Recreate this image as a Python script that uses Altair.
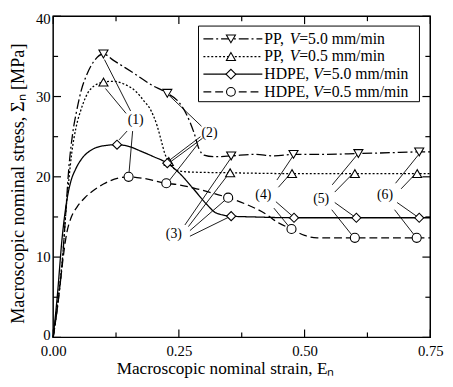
import altair as alt
import pandas as pd

# ---------------- data ----------------
series_names = ["PP, V=5.0 mm/min", "PP, V=0.5 mm/min", "HDPE, V=5.0 mm/min", "HDPE, V=0.5 mm/min"]

pp50_x = [0, 0.01, 0.018, 0.025, 0.031, 0.039, 0.047, 0.056, 0.066, 0.08, 0.1, 0.12, 0.143, 0.17, 0.194,
          0.227, 0.25, 0.265, 0.28, 0.29, 0.3, 0.32, 0.354, 0.4, 0.44, 0.478, 0.54, 0.607, 0.67, 0.728, 0.75]
pp50_y = [0, 4.5, 9.3, 15.5, 21.0, 25.5, 28.3, 30.8, 32.6, 34.3, 35.3, 34.5, 33.6, 32.5, 31.5,
          30.4, 29.3, 27.8, 25.5, 23.5, 22.7, 22.5, 22.6, 22.8, 22.6, 22.8, 22.8, 22.9, 23.0, 23.1, 23.1]

pp05_x = [0, 0.01, 0.02, 0.025, 0.031, 0.037, 0.045, 0.055, 0.074, 0.1, 0.12, 0.143, 0.165, 0.18, 0.195,
          0.207, 0.215, 0.222, 0.23, 0.246, 0.27, 0.352, 0.475, 0.6, 0.724, 0.75]
pp05_y = [0, 5.0, 11.0, 15.4, 19.5, 23.0, 26.0, 28.3, 30.9, 31.8, 31.9, 31.5, 30.6, 29.5, 28.2,
          26.3, 24.5, 22.9, 21.9, 20.8, 20.6, 20.5, 20.4, 20.4, 20.4, 20.4]

hd50_x = [0, 0.008, 0.018, 0.027, 0.035, 0.045, 0.06, 0.075, 0.094, 0.127, 0.15, 0.174, 0.2, 0.227,
          0.252, 0.279, 0.305, 0.324, 0.354, 0.4, 0.479, 0.603, 0.728, 0.75]
hd50_y = [0, 5.0, 12.5, 17.0, 19.4, 21.0, 22.5, 23.3, 23.8, 24.0, 23.8, 23.2, 22.5, 21.7,
          20.4, 18.5, 16.6, 15.5, 15.1, 15.0, 14.9, 14.9, 14.9, 14.9]

hd05_x = [0, 0.008, 0.015, 0.021, 0.027, 0.035, 0.047, 0.063, 0.08, 0.1, 0.113, 0.15, 0.18, 0.225, 0.25,
          0.28, 0.31, 0.348, 0.383, 0.422, 0.447, 0.474, 0.5, 0.525, 0.6, 0.723, 0.75]
hd05_y = [0, 3.5, 7.3, 10.5, 13.0, 14.8, 16.2, 17.4, 18.3, 19.1, 19.5, 20.0, 19.8, 19.2, 19.0,
          18.6, 18.1, 17.4, 16.6, 15.4, 14.3, 13.5, 12.7, 12.4, 12.4, 12.4, 12.4]

# markers
pp50_mx = [0.1, 0.227, 0.354, 0.478, 0.607, 0.728]
pp50_my = [35.3, 30.4, 22.6, 22.8, 22.9, 23.1]
pp05_mx = [0.1, 0.230, 0.352, 0.475, 0.6, 0.724]
pp05_my = [31.8, 21.9, 20.5, 20.4, 20.4, 20.4]
hd50_mx = [0.127, 0.227, 0.354, 0.479, 0.603, 0.728]
hd50_my = [24.0, 21.7, 15.1, 14.9, 14.9, 14.9]
hd05_mx = [0.15, 0.225, 0.348, 0.474, 0.600, 0.723]
hd05_my = [20.0, 19.2, 17.4, 13.5, 12.4, 12.4]

# annotation labels
ann_text = ["(1)", "(2)", "(3)", "(4)", "(5)", "(6)"]
ann_x = [0.164, 0.311, 0.240, 0.418, 0.533, 0.660]
ann_y = [27.1, 25.5, 12.9, 17.7, 17.2, 17.7]

# leader lines (x1, y1) -> (x2, y2)
lead_x1 = [0.154, 0.145, 0.147, 0.158,
           0.295, 0.293, 0.297, 0.288,
           0.262, 0.269, 0.272, 0.272,
           0.445, 0.448, 0.443, 0.439,
           0.555, 0.560, 0.560, 0.554,
           0.681, 0.692, 0.684, 0.679]
lead_y1 = [28.2, 27.9, 25.7, 25.7,
           26.3, 25.0, 24.8, 24.1,
           14.0, 13.8, 13.3, 12.6,
           19.6, 18.7, 16.9, 16.1,
           19.0, 18.1, 16.8, 15.9,
           19.2, 18.5, 16.8, 15.9]
lead_x2 = [0.102, 0.104, 0.131, 0.151,
           0.228, 0.230, 0.232, 0.228,
           0.352, 0.347, 0.342, 0.350,
           0.476, 0.472, 0.476, 0.469,
           0.604, 0.596, 0.600, 0.596,
           0.726, 0.721, 0.725, 0.720]
lead_y2 = [34.6, 31.0, 24.6, 20.6,
           30.3, 22.0, 21.8, 19.3,
           22.2, 20.2, 17.1, 15.0,
           22.5, 20.4, 15.1, 13.8,
           22.7, 20.4, 15.0, 12.6,
           22.7, 20.4, 15.0, 12.6]

x_tick_labels = [0, 0.25, 0.5, 0.75]
x_minor = [0.125, 0.375, 0.625]
y_tick_labels = [0, 10, 20, 30, 40]
y_minor = [5, 15, 25, 35]

# ---------------- styling ----------------
W, H = 384, 327
FONT = "Liberation Serif"
dashes = [[10, 3, 2, 3], [2, 2], [1, 0], [8, 4]]
shapes = ["triangle-down", "triangle-up", "diamond", "circle"]
sizes = [85, 85, 100, 80]

xs = alt.Scale(domain=[0, 0.75], nice=False, zero=False)
ys = alt.Scale(domain=[0, 40], nice=False, zero=False)

x_axis = alt.Axis(values=x_tick_labels, format=".2f", title="Macroscopic nominal strain, Eₙ",
                  labelPadding=6, titlePadding=2, labelFlush=False, titleX=175, titleFontSize=17.5)
y_axis = alt.Axis(values=y_tick_labels, format="d", title="Macroscopic nominal stress, Σₙ [MPa]",
                  labelPadding=3, titlePadding=8, labelFlush=False, titleY=170, titleFontSize=18.5,
                  labelOffset={"condition": [{"test": "datum.value == 40", "value": 2},
                                             {"test": "datum.value == 0", "value": -3}],
                               "value": 0})


def X(f="x"):
    return alt.X(f + ":Q", scale=xs, axis=x_axis)


def Y(f="y"):
    return alt.Y(f + ":Q", scale=ys, axis=y_axis)


curves = pd.concat([
    pd.DataFrame({"x": pp50_x, "y": pp50_y, "s": series_names[0]}),
    pd.DataFrame({"x": pp05_x, "y": pp05_y, "s": series_names[1]}),
    pd.DataFrame({"x": hd50_x, "y": hd50_y, "s": series_names[2]}),
    pd.DataFrame({"x": hd05_x, "y": hd05_y, "s": series_names[3]}),
], ignore_index=True)
curves["o"] = range(len(curves))

markers = pd.concat([
    pd.DataFrame({"x": pp50_mx, "y": pp50_my, "s": series_names[0]}),
    pd.DataFrame({"x": pp05_mx, "y": pp05_my, "s": series_names[1]}),
    pd.DataFrame({"x": hd50_mx, "y": hd50_my, "s": series_names[2]}),
    pd.DataFrame({"x": hd05_mx, "y": hd05_my, "s": series_names[3]}),
], ignore_index=True)

leads = pd.DataFrame({"x": lead_x1, "y": lead_y1, "x2": lead_x2, "y2": lead_y2})
anns = pd.DataFrame({"x": ann_x, "y": ann_y, "t": ann_text})

lines = alt.Chart(curves).mark_line(color="black", strokeWidth=1.3, interpolate="monotone").encode(
    x=X(), y=Y(),
    detail="s:N",
    order="o:Q",
    strokeDash=alt.StrokeDash("s:N", scale=alt.Scale(domain=series_names, range=dashes), legend=None),
)

leader = alt.Chart(leads).mark_rule(color="black", strokeWidth=0.9).encode(
    x=X(), y=Y(), x2="x2:Q", y2="y2:Q")

points = alt.Chart(markers).mark_point(filled=True, fill="white", stroke="black", strokeWidth=1.1,
                                       opacity=1, fillOpacity=1).encode(
    x=X(), y=Y(),
    shape=alt.Shape("s:N", scale=alt.Scale(domain=series_names, range=shapes), legend=None),
    size=alt.Size("s:N", scale=alt.Scale(domain=series_names, range=sizes), legend=None),
)

labels = alt.Chart(anns).mark_text(font=FONT, fontSize=14, color="black").encode(
    x=X(), y=Y(), text="t:N")


def one():
    return pd.DataFrame({"k": [0]})


def tick_layers():
    out = []
    for vals, ln in ((x_tick_labels, 8), (x_minor, 5)):
        d = pd.DataFrame({"x": vals})
        out.append(alt.Chart(d).mark_rule(color="black", strokeWidth=1.2).encode(
            x=X(), y=alt.value(H), y2=alt.value(H - ln)))
        out.append(alt.Chart(d).mark_rule(color="black", strokeWidth=1.2).encode(
            x=X(), y=alt.value(0), y2=alt.value(ln)))
    for vals, ln in ((y_tick_labels, 8), (y_minor, 5)):
        d = pd.DataFrame({"y": vals})
        out.append(alt.Chart(d).mark_rule(color="black", strokeWidth=1.2).encode(
            y=Y(), x=alt.value(0), x2=alt.value(ln)))
        out.append(alt.Chart(d).mark_rule(color="black", strokeWidth=1.2).encode(
            y=Y(), x=alt.value(W), x2=alt.value(W - ln)))
    return out


# custom legend (pixel layout, relative to plot area)
LX0, LX1, LY0, LY1 = 148, 373, 10, 87
row_y = [23, 41, 59, 77]
line_x0, line_x1, mark_x, text_x = 153, 213, 181, 215
prefixes = ["PP,", "PP,", "HDPE,", "HDPE,"]
prefix_w = [25.8, 25.8, 49.8, 49.8]
suffixes = ["=5.0 mm/min", "=0.5 mm/min", "=5.0 mm/min", "=0.5 mm/min"]

legend_layers = [alt.Chart(one()).mark_rect(fill="white", stroke="black", strokeWidth=1).encode(
    x=alt.value(LX0), x2=alt.value(LX1), y=alt.value(LY0), y2=alt.value(LY1))]
for i in range(4):
    yy = row_y[i]
    legend_layers.append(alt.Chart(one()).mark_rule(color="black", strokeWidth=1.3,
                                                    strokeDash=dashes[i]).encode(
        x=alt.value(line_x0), x2=alt.value(line_x1), y=alt.value(yy)))
    legend_layers.append(alt.Chart(one()).mark_point(shape=shapes[i], size=sizes[i], filled=True,
                                                     fill="white", stroke="black", strokeWidth=1.1,
                                                     opacity=1).encode(
        x=alt.value(mark_x), y=alt.value(yy)))
    legend_layers.append(alt.Chart(one()).mark_text(text=prefixes[i], font=FONT, fontSize=16,
                                                    align="left", baseline="middle", color="black").encode(
        x=alt.value(text_x), y=alt.value(yy)))
    legend_layers.append(alt.Chart(one()).mark_text(text="V", font=FONT, fontSize=16, fontStyle="italic",
                                                    align="left", baseline="middle", color="black").encode(
        x=alt.value(text_x + prefix_w[i]), y=alt.value(yy)))
    legend_layers.append(alt.Chart(one()).mark_text(text=suffixes[i], font=FONT, fontSize=16,
                                                    align="left", baseline="middle", color="black").encode(
        x=alt.value(text_x + prefix_w[i] + 9.8), y=alt.value(yy)))

chart = alt.layer(lines, leader, points, labels, *tick_layers(), *legend_layers).properties(
    width=W, height=H,
    autosize=alt.AutoSizeParams(type="none"),
    padding={"left": 46, "top": 5, "right": 15, "bottom": 40},
).configure_view(stroke="black", strokeWidth=1.5).configure_axis(
    grid=False, domain=False, ticks=False,
    labelFont=FONT, titleFont=FONT, labelFontSize=15,
    titleFontWeight="normal", labelColor="black", titleColor="black",
)

chart.save("out.html", embed_options={"renderer": "svg", "actions": False})
